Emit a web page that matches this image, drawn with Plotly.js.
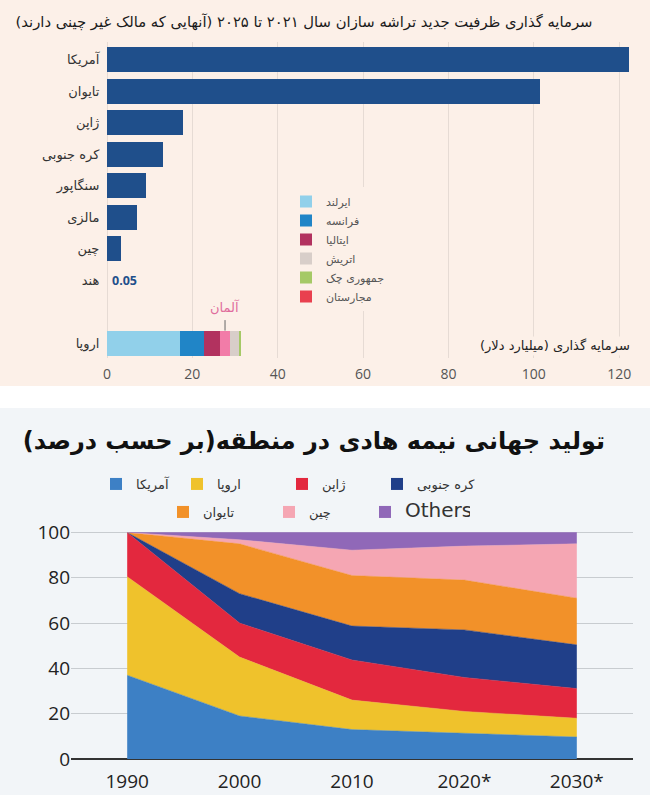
<!DOCTYPE html>
<html><head><meta charset="utf-8">
<script src="https://cdn.plot.ly/plotly-3.0.1.min.js"></script>
<style>
html,body{margin:0;padding:0;background:#ffffff;}
#top{position:absolute;left:0;top:0;width:650px;height:386px;}
#bottom{position:absolute;left:0;top:408px;width:650px;height:387px;}
</style></head><body>
<div id="top"></div><div id="bottom"></div>
<script>
// ---------- Top chart data ----------
const countries = ['آمریکا','تایوان','ژاپن','کره جنوبی','سنگاپور','مالزی','چین','هند'];
const investment = [122.2, 101.4, 17.9, 13.1, 9.1, 7.0, 3.3, 0.05];
const europeLabel = 'اروپا';
const europeParts = ['ایرلند','فرانسه','ایتالیا','آلمان','اتریش','جمهوری چک','مجارستان'];
const europeValues = [17.1, 5.7, 3.7, 2.3, 2.1, 0.4, 0.1];
const europeColors = ['#91d0ea','#2085c7','#b2325f','#f27ca8','#d8cec9','#a5c966','#e9404f'];
const topTicks = [0, 20, 40, 60, 80, 100, 120];
const topTitle = 'سرمایه گذاری ظرفیت جدید تراشه سازان سال ۲۰۲۱ تا ۲۰۲۵ (آنهایی که مالک غیر چینی دارند)';
const topAxisTitle = 'سرمایه گذاری (میلیارد دلار)';
const indiaNote = '0.05';
const germanyNote = 'آلمان';

// ---------- Bottom chart data ----------
const years = [1990, 2000, 2010, 2020, 2030];
const yearLabels = ['1990', '2000', '2010', '2020*', '2030*'];
const regions = ['آمریکا','اروپا','ژاپن','کره جنوبی','تایوان','چین','Others'];
const america = [37, 19, 13, 11.5, 9.7];
const europe  = [43.5, 26, 13, 9.5, 8.3];
const japan   = [19.5, 15, 17.7, 15, 13.1];
const korea   = [0, 13, 15, 21, 19.3];
const taiwan  = [0, 22, 22.3, 22, 20.6];
const china   = [0, 1.8, 11.2, 15, 24];
const others  = [0, 3.2, 7.8, 6, 5];
const regionColors = ['#3d80c5','#efc22c','#e3283e','#203f89','#f29129','#f5a6b3','#9068b8'];
const bottomTitle = 'تولید جهانی نیمه هادی در منطقه(بر حسب درصد)';
const pctTicks = [0, 20, 40, 60, 80, 100];

const RLM = '\u200F';
const peach = '#fcf0e8';
const fa = 'DejaVu Sans, sans-serif';
const lat = 'Open Sans, DejaVu Sans, sans-serif';

// ---------- Top chart ----------
const europeSlot = countries.length + 1;
const slotVals = countries.map((_, i) => i).concat([europeSlot]);
const slotText = countries.concat([europeLabel]);

const topTraces = [{
  type: 'bar', orientation: 'h',
  x: investment, y: countries.map((_, i) => i),
  width: 0.8, marker: {color: '#1f4f8b', line: {width: 0}},
  showlegend: false, hoverinfo: 'skip'
}];
europeParts.forEach((p, i) => {
  topTraces.push({
    type: 'bar', orientation: 'h', name: p,
    x: [europeValues[i]], y: [europeSlot],
    width: 0.8, marker: {color: europeColors[i], line: {width: 0}},
    showlegend: p !== germanyNote, hoverinfo: 'skip'
  });
});
const gIdx = europeParts.indexOf(germanyNote);
const germanyMid = europeValues.slice(0, gIdx).reduce((a, b) => a + b, 0) + europeValues[gIdx] / 2;

const topLayout = {
  width: 650, height: 386,
  paper_bgcolor: peach, plot_bgcolor: peach,
  margin: {l: 107, r: 18, t: 42, b: 28},
  barmode: 'stack',
  title: {text: topTitle + RLM, font: {family: fa, size: 14.8, color: '#1a1a1a'},
          x: 304 / 650, xanchor: 'center', xref: 'container',
          y: 1 - 22 / 386, yanchor: 'middle', yref: 'container'},
  xaxis: {range: [0, 123], tickvals: topTicks, showgrid: true, gridcolor: '#e6dbd4', gridwidth: 1,
          zeroline: true, zerolinecolor: '#e6dbd4', zerolinewidth: 1, showline: false,
          ticks: 'outside', ticklen: 3, tickcolor: 'rgba(0,0,0,0)',
          tickfont: {family: lat, size: 14, color: '#555'}, fixedrange: true},
  yaxis: {range: [9.47, -0.565], tickvals: slotVals, ticktext: slotText, showgrid: false,
          zeroline: false, showline: false, ticks: 'outside', ticklen: 4, tickcolor: 'rgba(0,0,0,0)',
          tickfont: {family: fa, size: 13, color: '#333'}, fixedrange: true},
  showlegend: true,
  legend: {xref: 'paper', yref: 'paper', x: (286 - 107) / 525, xanchor: 'left',
           y: 1 - (187 - 42) / 316, yanchor: 'top', traceorder: 'normal', bgcolor: peach,
           font: {family: fa, size: 11, color: '#555'}, tracegroupgap: 0},
  annotations: [
    {xref: 'x', yref: 'y', x: 0.6, y: countries.length - 1, xanchor: 'left', yanchor: 'middle',
     text: '<b>' + indiaNote + '</b>', showarrow: false,
     font: {family: lat, size: 12.5, color: '#1f4f8b'}},
    {xref: 'x', yref: 'y', x: germanyMid, y: europeSlot - 0.4, text: germanyNote,
     showarrow: true, arrowhead: 0, arrowwidth: 1, arrowcolor: '#666', ax: 0, ay: -24,
     startstandoff: 4, font: {family: fa, size: 13, color: '#e06c9c'}},
    {xref: 'paper', yref: 'y', x: 1, y: europeSlot + 0.1, xanchor: 'right', yanchor: 'middle',
     text: topAxisTitle + RLM, showarrow: false, bgcolor: peach,
     font: {family: fa, size: 13, color: '#222'}}
  ]
};
Plotly.newPlot('top', topTraces, topLayout, {displayModeBar: false, staticPlot: true});

// ---------- Bottom chart ----------
const regionValues = [america, europe, japan, korea, taiwan, china, others];
const botTraces = [];
regionValues.forEach((vals, i) => {
  botTraces.push({
    type: 'scatter', x: years, y: vals, stackgroup: 'one', mode: 'lines',
    line: {width: 0.5, color: regionColors[i]}, fillcolor: regionColors[i],
    showlegend: false, hoverinfo: 'skip'
  });
});
const legendWidths = [36, 60, 50, 60, 61, 51, 60];
regions.forEach((r, i) => {
  botTraces.push({
    type: 'scatter', x: [null], y: [null], mode: 'markers', name: r === 'Others' ? '<span style="font-size:20px">' + r + '</span>' : r,
    marker: {symbol: 'square', size: 12, color: regionColors[i]},
    legend: i < 4 ? 'legend' : 'legend2', legendwidth: legendWidths[i],
    showlegend: true, hoverinfo: 'skip'
  });
});
const botLayout = {
  width: 650, height: 387,
  paper_bgcolor: '#f2f5f8', plot_bgcolor: '#f2f5f8',
  margin: {l: 71, r: 17, t: 120, b: 36},
  title: {text: '<b>' + bottomTitle + RLM + '</b>', font: {family: fa, size: 24, color: '#111'},
          x: 314 / 650, xanchor: 'center', xref: 'container',
          y: 1 - 33 / 387, yanchor: 'middle', yref: 'container'},
  xaxis: {range: [1985, 2035], tickvals: years, ticktext: yearLabels, showgrid: false,
          zeroline: false, showline: false, ticks: 'outside', ticklen: 5, tickcolor: 'rgba(0,0,0,0)',
          tickfont: {family: lat, size: 19, color: '#222'}, fixedrange: true},
  yaxis: {range: [0, 102], tickvals: pctTicks, showgrid: true, gridcolor: '#c8ccd0', gridwidth: 1,
          zeroline: true, zerolinecolor: '#333', zerolinewidth: 2, showline: false, ticks: '',
          tickfont: {family: lat, size: 19, color: '#222'}, fixedrange: true},
  showlegend: true,
  legend: {orientation: 'h', xref: 'container', yref: 'container', x: 96 / 650, xanchor: 'left',
           y: 1 - 61 / 387, yanchor: 'top', bgcolor: 'rgba(0,0,0,0)', traceorder: 'normal',
           font: {family: fa, size: 13, color: '#333'}},
  legend2: {orientation: 'h', xref: 'container', yref: 'container', x: 163 / 650, xanchor: 'left',
           y: 1 - 89 / 387, yanchor: 'top', bgcolor: 'rgba(0,0,0,0)', traceorder: 'normal',
           font: {family: fa, size: 13, color: '#333'}}
};
Plotly.newPlot('bottom', botTraces, botLayout, {displayModeBar: false, staticPlot: true});
</script>
</body></html>
